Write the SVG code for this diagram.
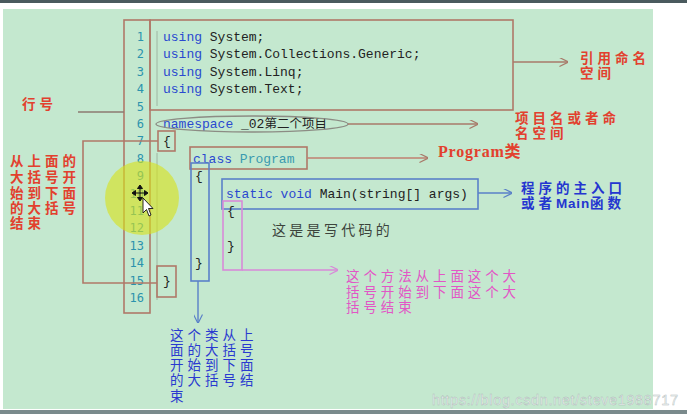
<svg xmlns="http://www.w3.org/2000/svg" width="687" height="420" viewBox="0 0 687 420">
<defs>
<marker id="ahB" viewBox="0 0 10 10" refX="9.5" refY="5" markerWidth="9" markerHeight="9" markerUnits="userSpaceOnUse" orient="auto">
<path d="M0,0 L10,5 L0,10" fill="none" stroke="#5a80c8" stroke-width="1.3"/>
</marker>
<marker id="ahR" viewBox="0 0 10 10" refX="9.5" refY="5" markerWidth="9" markerHeight="9" markerUnits="userSpaceOnUse" orient="auto">
<path d="M0,0 L10,5 L0,10" fill="none" stroke="#a87a6a" stroke-width="1.3"/>
</marker>
<marker id="ahP" viewBox="0 0 10 10" refX="9.5" refY="5" markerWidth="9" markerHeight="9" markerUnits="userSpaceOnUse" orient="auto">
<path d="M0,0 L10,5 L0,10" fill="none" stroke="#d88ad8" stroke-width="1.3"/>
</marker>
</defs>
<style>
.code{font-family:"Liberation Mono","DejaVu Sans Mono",monospace;font-size:13px;fill:#222}
.kw{fill:#2a48d0}
.ty{fill:#3a9ab0}
.ln{font-family:"DejaVu Sans Mono","Liberation Mono",monospace;font-size:12px;fill:#2b93ad;text-anchor:end}
.br{fill:none;stroke:#b07868;stroke-width:1.6}
.bl{fill:none;stroke:#5a80c8;stroke-width:1.6}
.pk{fill:none;stroke:#d88ad8;stroke-width:1.6}
.cjk{font-family:"Liberation Sans","Noto Sans CJK SC",sans-serif;font-size:13.5px;letter-spacing:4px}
.red{fill:#e2402e;font-weight:bold}
.blue{fill:#2436d0;font-weight:bold}
.blue2{fill:#2a3ad0}
.pink{fill:#e256c6;letter-spacing:3.9px}
.gray{fill:#3c443c;letter-spacing:3.3px;font-size:14px}
</style>
<rect x="0" y="0" width="687" height="420" fill="#ffffff"/>
<rect x="0" y="0" width="687" height="3" fill="#4a5a5e"/>
<rect x="3" y="9" width="650" height="400" fill="#c4e8cf"/>
<rect x="0" y="410" width="687" height="4" fill="#7a8a8c"/>

<g id="gutter">
<line x1="157" y1="31" x2="157" y2="106" stroke="#98a898" stroke-width="0.8"/>
<line x1="157" y1="153" x2="157" y2="300" stroke="#98a898" stroke-width="0.8"/>
</g>

<g id="line-numbers">
<rect class="br" x="124" y="20" width="26" height="293"/>
<text class="ln" x="144" y="41">1</text>
<text class="ln" x="144" y="58">2</text>
<text class="ln" x="144" y="76">3</text>
<text class="ln" x="144" y="93">4</text>
<text class="ln" x="144" y="111">5</text>
<text class="ln" x="144" y="128">6</text>
<text class="ln" x="144" y="145">7</text>
<text class="ln" x="144" y="163">8</text>
<text class="ln" x="144" y="180">9</text>
<text class="ln" x="144" y="198">10</text>
<text class="ln" x="144" y="215">11</text>
<text class="ln" x="144" y="232">12</text>
<text class="ln" x="144" y="250">13</text>
<text class="ln" x="144" y="267">14</text>
<text class="ln" x="144" y="285">15</text>
<text class="ln" x="144" y="302">16</text>
</g>

<g id="using-block">
<rect class="br" x="150" y="20" width="363" height="90"/>
<text class="code" x="163" y="41"><tspan class="kw">using</tspan> System;</text>
<text class="code" x="163" y="58"><tspan class="kw">using</tspan> System.Collections.Generic;</text>
<text class="code" x="163" y="76"><tspan class="kw">using</tspan> System.Linq;</text>
<text class="code" x="163" y="93"><tspan class="kw">using</tspan> System.Text;</text>
</g>

<g id="namespace-line">
<text class="code" x="163" y="128"><tspan class="kw">namespace</tspan> _02<tspan font-family="Liberation Mono, Noto Sans CJK SC, sans-serif" font-size="12.5px">第二个项目</tspan></text>
<ellipse cx="252" cy="124" rx="96" ry="8" fill="none" stroke="#8c8c84" stroke-width="1.4"/>
</g>

<g id="namespace-braces">
<rect class="br" x="158" y="131" width="17" height="20"/>
<text class="code" x="163" y="145" fill="#1e2e1e">{</text>
<rect class="br" x="157" y="266" width="19" height="31"/>
<text class="code" x="163" y="285" fill="#1e2e1e">}</text>
</g>

<g id="class-program">
<rect class="br" x="190" y="147" width="117" height="22"/>
<text class="code" x="193" y="163"><tspan class="kw">class</tspan> <tspan class="ty">Program</tspan></text>
</g>

<g id="class-braces">
<rect class="bl" x="191" y="163" width="18" height="118"/>
<text class="code" x="195" y="180" fill="#1e2e1e">{</text>
<text class="code" x="195" y="267" fill="#1e2e1e">}</text>
</g>

<g id="main-method">
<rect class="bl" x="222" y="179" width="256" height="30"/>
<text class="code" x="226" y="198"><tspan class="kw">static void</tspan> Main(string[] args)</text>
</g>

<g id="method-braces">
<rect class="pk" x="223" y="201" width="19" height="69"/>
<text class="code" x="227" y="215" fill="#1e2e1e">{</text>
<text class="code" x="227" y="250" fill="#1e2e1e">}</text>
<text class="cjk gray" x="272" y="235">这是是写代码的</text>
</g>

<g id="cursor-highlight">
<circle cx="142" cy="198" r="37" fill="#d6e21c" opacity="0.62"/>
<path d="M140,187 L140,199 M134,193 L146,193 M140,185 L137.5,188.5 L142.5,188.5 Z M140,201 L137.5,197.5 L142.5,197.5 Z M132,193 L135.5,190.5 L135.5,195.5 Z M148,193 L144.5,190.5 L144.5,195.5 Z" fill="#111" stroke="#111" stroke-width="1"/>
<path d="M143,198 L143,213 L146.5,209.5 L149,216 L151,215 L148.5,208.5 L153,208.5 Z" fill="#ffffff" stroke="#111" stroke-width="0.9"/>
</g>

<g id="connectors">
<line x1="513" y1="62" x2="568" y2="62" stroke="#a87a6a" stroke-width="1.4" marker-end="url(#ahR)"/>
<line x1="348" y1="124" x2="478" y2="124" stroke="#a87a6a" stroke-width="1.4" marker-end="url(#ahR)"/>
<line x1="78" y1="112" x2="124" y2="112" stroke="#8c7a70" stroke-width="1.4"/>
<polyline class="br" points="158,141 83,141 83,283 157,283"/>
<line x1="307" y1="158" x2="428" y2="158" stroke="#c08070" stroke-width="1.4" marker-end="url(#ahR)"/>
<line x1="478" y1="193" x2="512" y2="193" stroke="#5a80c8" stroke-width="1.4" marker-end="url(#ahB)"/>
<line x1="242" y1="270" x2="338" y2="270" stroke="#d88ad8" stroke-width="1.4" marker-end="url(#ahP)"/>
<line x1="198" y1="281" x2="198" y2="323" stroke="#5a80c8" stroke-width="1.4" marker-end="url(#ahB)"/>
</g>

<g id="labels">
<text class="cjk red" x="22" y="109" font-size="17px" letter-spacing="1px">行号</text>
<text class="cjk red"><tspan x="580" y="63">引用命名</tspan><tspan x="580" y="78">空间</tspan></text>
<text class="cjk red"><tspan x="515" y="123">项目名或者命</tspan><tspan x="515" y="138">名空间</tspan></text>
<text x="438" y="157" font-family="Liberation Serif, Noto Sans CJK SC, serif" font-weight="bold" font-size="16px" fill="#e2402e" letter-spacing="0.8">Program类</text>
<text class="cjk blue"><tspan x="521" y="193">程序的主入口</tspan><tspan x="521" y="208">或者<tspan letter-spacing="0.8px">Main</tspan>函数</tspan></text>
<text class="cjk red"><tspan x="10" y="166">从上面的</tspan><tspan x="10" y="182">大括号开</tspan><tspan x="10" y="198">始到下面</tspan><tspan x="10" y="213">的大括号</tspan><tspan x="10" y="228">结束</tspan></text>
<text class="cjk pink"><tspan x="346" y="281">这个方法从上面这个大</tspan><tspan x="346" y="297">括号开始到下面这个大</tspan><tspan x="346" y="312">括号结束</tspan></text>
<text class="cjk blue2"><tspan x="170" y="340">这个类从上</tspan><tspan x="170" y="355">面的大括号</tspan><tspan x="170" y="370">开始到下面</tspan><tspan x="170" y="385">的大括号结</tspan><tspan x="170" y="401">束</tspan></text>
</g>

<text x="432" y="405" font-family="Liberation Sans, sans-serif" font-size="14.5px" textLength="246" fill="#eef3f3" stroke="#aab4b4" stroke-width="0.4" opacity="0.9">https://blog.csdn.net/steve1988717</text>
</svg>
